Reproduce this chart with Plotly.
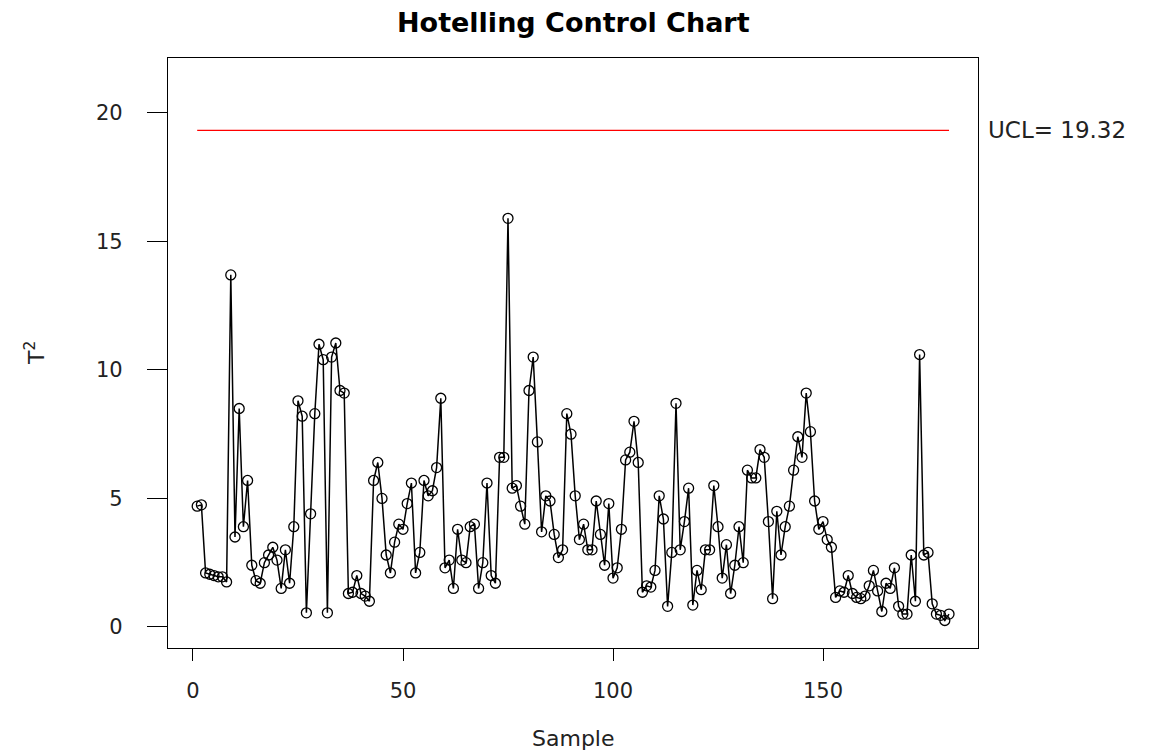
import plotly.graph_objects as go

t2_values = [
    4.7, 4.75, 2.1, 2.05, 2.0, 1.95, 1.95, 1.75, 13.7, 3.5,
    8.5, 3.9, 5.7, 2.4, 1.8, 1.7, 2.5, 2.8, 3.1, 2.6,
    1.5, 3.0, 1.7, 3.9, 8.8, 8.2, 0.55, 4.4, 8.3, 11.0,
    10.4, 0.55, 10.5, 11.05, 9.2, 9.1, 1.3, 1.35, 2.0, 1.3,
    1.2, 1.0, 5.7, 6.4, 5.0, 2.8, 2.1, 3.3, 4.0, 3.8,
    4.8, 5.6, 2.1, 2.9, 5.7, 5.1, 5.3, 6.2, 8.9, 2.3,
    2.6, 1.5, 3.8, 2.6, 2.5, 3.9, 4.0, 1.5, 2.5, 5.6,
    2.0, 1.7, 6.6, 6.6, 15.9, 5.4, 5.5, 4.7, 4.0, 9.2,
    10.5, 7.2, 3.7, 5.1, 4.9, 3.6, 2.7, 3.0, 8.3, 7.5,
    5.1, 3.4, 4.0, 3.0, 3.0, 4.9, 3.6, 2.4, 4.8, 1.9,
    2.3, 3.8, 6.5, 6.8, 8.0, 6.4, 1.35, 1.6, 1.55, 2.2,
    5.1, 4.2, 0.8, 2.9, 8.7, 3.0, 4.1, 5.4, 0.85, 2.2,
    1.45, 3.0, 3.0, 5.5, 3.9, 1.9, 3.2, 1.3, 2.4, 3.9,
    2.5, 6.1, 5.8, 5.8, 6.9, 6.6, 4.1, 1.1, 4.5, 2.8,
    3.9, 4.7, 6.1, 7.4, 6.6, 9.1, 7.6, 4.9, 3.8, 4.1,
    3.4, 3.1, 1.15, 1.4, 1.35, 2.0, 1.3, 1.15, 1.1, 1.2,
    1.6, 2.2, 1.4, 0.6, 1.7, 1.5, 2.3, 0.8, 0.5, 0.5,
    2.8, 1.0, 10.6, 2.8, 2.9, 0.9, 0.5, 0.45, 0.25, 0.5,
]
samples = list(range(1, len(t2_values) + 1))
ucl = 19.32
x_ticks = [0, 50, 100, 150]
y_ticks = [0, 5, 10, 15, 20]

FONT = "DejaVu Sans, Liberation Sans, Arial, sans-serif"

fig = go.Figure()
fig.add_trace(go.Scatter(
    x=samples, y=t2_values, mode="lines+markers",
    line=dict(color="black", width=1.5),
    marker=dict(symbol="circle-open", size=10, color="black", line=dict(width=1.3)),
    showlegend=False, hoverinfo="x+y",
))
fig.add_trace(go.Scatter(
    x=[samples[0], samples[-1]], y=[ucl, ucl], mode="lines",
    line=dict(color="red", width=1.3), showlegend=False,
))

fig.update_layout(
    width=1160, height=743,
    margin=dict(l=160, r=190, t=50, b=103),
    paper_bgcolor="white", plot_bgcolor="white",
    font=dict(family=FONT, size=20, color="#222"),
    xaxis=dict(range=[-5.95, 186.9], tickvals=x_ticks, ticks="outside", ticklen=12,
               ticklabelstandoff=12, tickfont=dict(size=21),
               tickcolor="black", showgrid=False, zeroline=False, showline=True,
               linecolor="black", linewidth=1.2, mirror=True),
    yaxis=dict(range=[-0.82, 22.14], tickvals=y_ticks, ticks="outside", ticklen=20,
               ticklabelstandoff=20, tickfont=dict(size=21),
               tickcolor="black", showgrid=False, zeroline=False, showline=True,
               linecolor="black", linewidth=1.2, mirror=True),
    annotations=[
        dict(text="<b>Hotelling Control Chart</b>", x=0.5, y=1, xref="paper", yref="paper",
             xanchor="center", yanchor="middle", yshift=36, showarrow=False,
             font=dict(size=27, family=FONT, color="black")),
        dict(text="Sample", x=0.5, y=0, xref="paper", yref="paper", xanchor="center",
             yanchor="middle", yshift=-90, showarrow=False, font=dict(size=22, family=FONT)),
        dict(text="T<sup>2</sup>", x=0, y=0.5, xref="paper", yref="paper", xanchor="center",
             yanchor="middle", xshift=-133, showarrow=False, textangle=-90,
             font=dict(size=22, family=FONT)),
        dict(text="UCL= 19.32", x=1, y=ucl, xref="paper", yref="y", xanchor="left",
             yanchor="middle", xshift=8, showarrow=False, font=dict(size=23, family=FONT)),
    ],
)

fig.write_html("out.html")
